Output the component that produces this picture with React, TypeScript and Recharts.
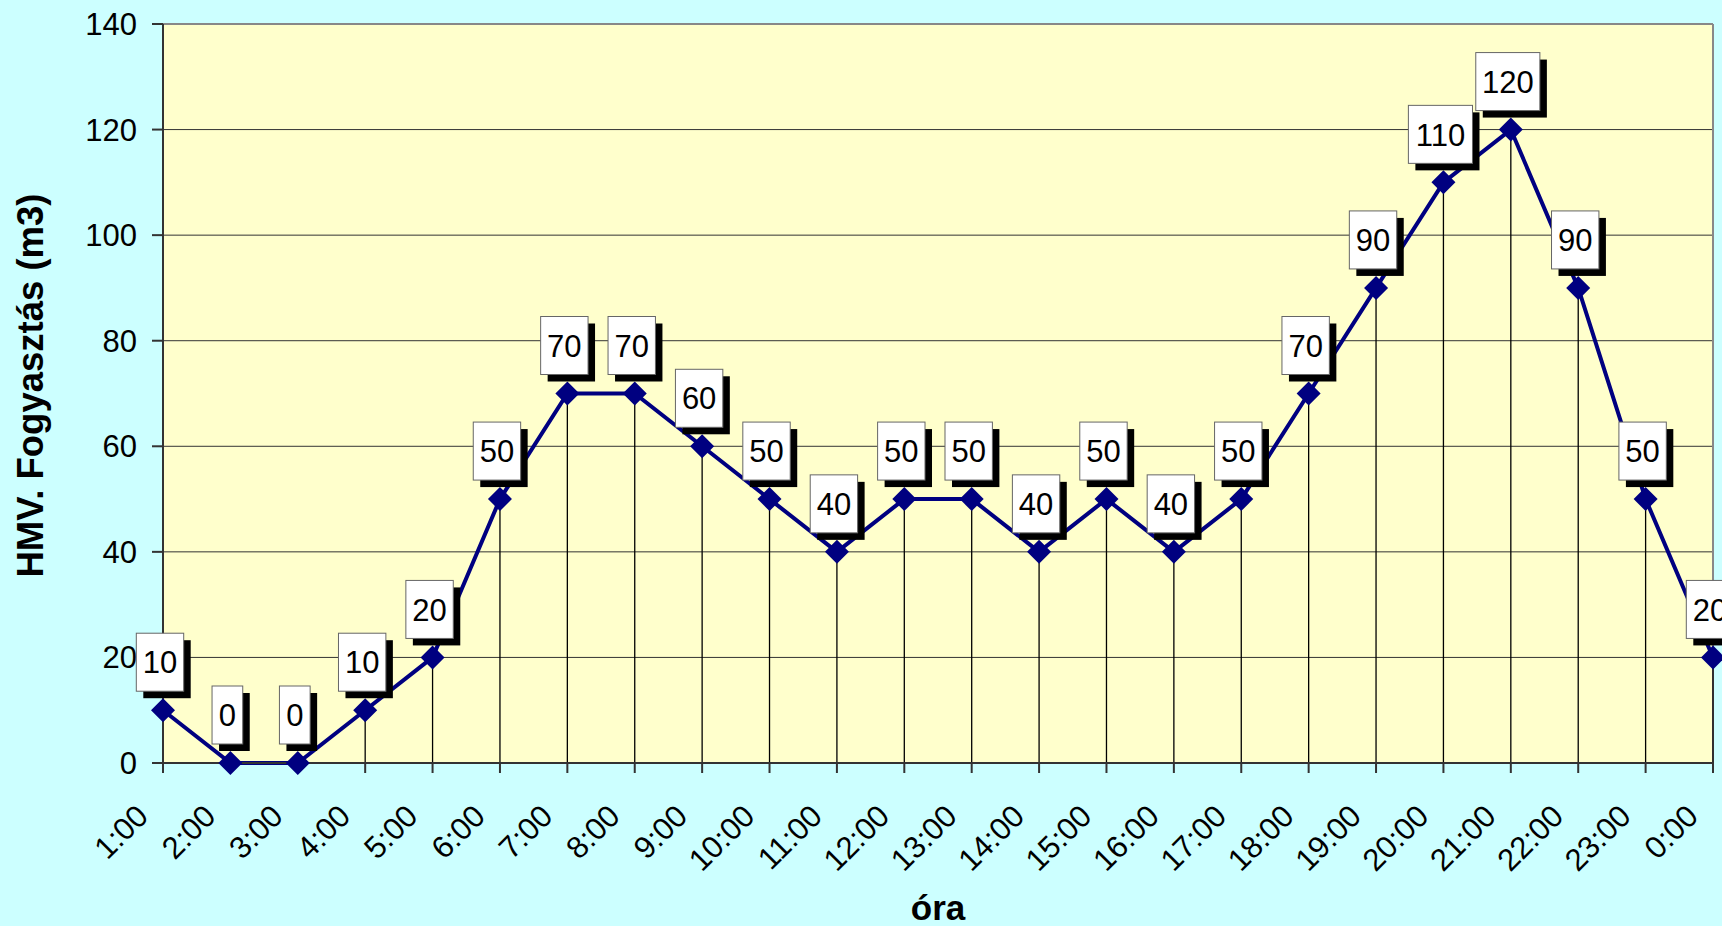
import {
  CartesianGrid,
  Label,
  LabelList,
  Line,
  LineChart,
  ReferenceLine,
  XAxis,
  YAxis,
} from "recharts";

const hours = [
  "1:00", "2:00", "3:00", "4:00", "5:00", "6:00", "7:00", "8:00",
  "9:00", "10:00", "11:00", "12:00", "13:00", "14:00", "15:00", "16:00",
  "17:00", "18:00", "19:00", "20:00", "21:00", "22:00", "23:00", "0:00",
];

const consumption = [
  10, 0, 0, 10, 20, 50, 70, 70, 60, 50, 40, 50,
  50, 40, 50, 40, 50, 70, 90, 110, 120, 90, 50, 20,
];

const yTicks = [0, 20, 40, 60, 80, 100, 120, 140];

const data = hours.map((hour, i) => ({ hour, value: consumption[i] }));

const FONT = "'Liberation Sans', Arial, sans-serif";
const FS = 31;

// rombusz jelölő
const Diamond = (props: any) => {
  const { cx, cy } = props;
  if (cx == null || cy == null) return null;
  const r = 12;
  return (
    <polygon
      points={`${cx},${cy - r} ${cx + r},${cy} ${cx},${cy + r} ${cx - r},${cy}`}
      fill="#000080"
    />
  );
};

// fehér doboz árnyékkal, benne az érték
const ValueLabel = (props: any) => {
  const { x, y, value } = props;
  if (x == null || y == null) return null;
  const w = String(value).length * 16.7 + 14;
  const h = 58;
  const bx = x - 3 - w / 2;
  const by = y - 19 - h;
  return (
    <g>
      <rect x={bx + 7} y={by + 7} width={w} height={h} fill="#000" />
      <rect x={bx} y={by} width={w} height={h} fill="#fff" stroke="#666" strokeWidth={1} />
      <text
        x={bx + w / 2}
        y={by + h / 2}
        dy="0.36em"
        textAnchor="middle"
        fontSize={FS}
        fontFamily={FONT}
        fill="#000"
      >
        {value}
      </text>
    </g>
  );
};

const HourTick = (props: any) => {
  const { x, y, payload } = props;
  const tx = x - 13;
  const ty = y + 45;
  return (
    <text
      x={tx}
      y={ty}
      transform={`rotate(-45, ${tx}, ${ty})`}
      textAnchor="end"
      fontSize={FS}
      fontFamily={FONT}
      fill="#000"
    >
      {payload.value}
    </text>
  );
};

export default function App() {
  return (
    <div
      style={{
        position: "absolute",
        left: 0,
        top: 0,
        width: 1722,
        height: 926,
        background: "#CCFFFF",
      }}
    >
      <LineChart
        width={1722}
        height={926}
        data={data}
        margin={{ top: 24, right: 9, left: 0, bottom: 0 }}
      >
        <CartesianGrid vertical={false} stroke="#333" fill="#FFFFCC" />
        <XAxis
          dataKey="hour"
          height={163}
          interval={0}
          tickSize={10}
          tickMargin={0}
          stroke="#333"
          strokeWidth={2}
          tick={<HourTick />}
        >
          <Label
            content={(p: any) => {
              const vb = p.viewBox;
              return (
                <text
                  x={vb.x + vb.width / 2}
                  y={vb.y + 157}
                  textAnchor="middle"
                  fontSize={35}
                  fontWeight="bold"
                  fontFamily={FONT}
                  fill="#000"
                >
                  óra
                </text>
              );
            }}
          />
        </XAxis>
        <YAxis
          width={163}
          domain={[0, 140]}
          ticks={yTicks}
          tickSize={11}
          tickMargin={15}
          stroke="#333"
          strokeWidth={2}
          tick={{ fill: "#000", fontSize: FS, fontFamily: FONT }}
        >
          <Label
            content={(p: any) => {
              const vb = p.viewBox;
              const cx = vb.x + 30;
              const cy = vb.y + vb.height / 2 - 8;
              return (
                <text
                  x={cx}
                  y={cy}
                  dy="0.36em"
                  transform={`rotate(-90, ${cx}, ${cy})`}
                  textAnchor="middle"
                  fontSize={36.5}
                  fontWeight="bold"
                  fontFamily={FONT}
                  fill="#000"
                >
                  HMV. Fogyasztás (m3)
                </text>
              );
            }}
          />
        </YAxis>
        <ReferenceLine y={140} stroke="#888" strokeWidth={2} />
        <ReferenceLine x="0:00" stroke="#888" strokeWidth={2} />
        {data.map((d) => (
          <ReferenceLine
            key={d.hour}
            segment={[
              { x: d.hour, y: 0 },
              { x: d.hour, y: d.value },
            ]}
            stroke="#000"
            strokeWidth={1.3}
          />
        ))}
        <Line
          type="linear"
          dataKey="value"
          stroke="#000080"
          strokeWidth={4}
          dot={<Diamond />}
          activeDot={false}
          isAnimationActive={false}
        >
          <LabelList dataKey="value" content={<ValueLabel />} />
        </Line>
      </LineChart>
    </div>
  );
}
